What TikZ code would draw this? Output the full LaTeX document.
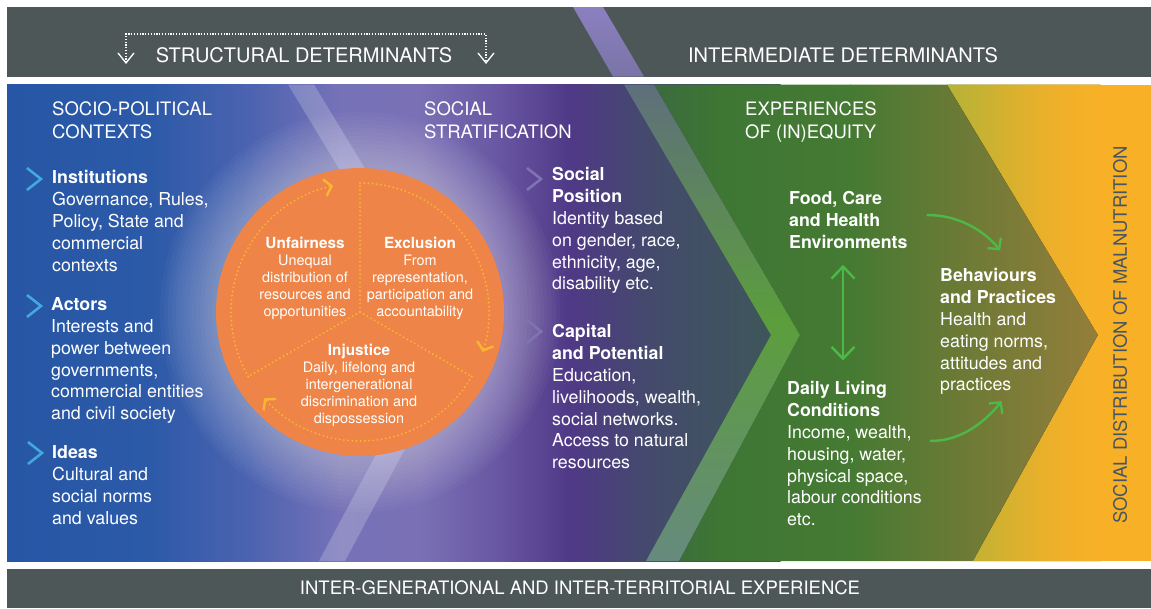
\documentclass[tikz,border=0pt]{standalone}
\usepackage{fontspec}
\setmainfont{TeX Gyre Heros}
\usepackage{xcolor}
\usepackage{tikz}
\usetikzlibrary{arrows.meta, calc, positioning}

\definecolor{barGrey}{HTML}{4E5758}
\definecolor{bandTop}{HTML}{8B80C0}
\definecolor{bandBot}{HTML}{7A74A6}
\definecolor{skyBlue}{HTML}{43A8DE}
\definecolor{lilac}{HTML}{8073B5}
\definecolor{ringOrange}{HTML}{EE8447}
\definecolor{dotYellow}{HTML}{F8B634}
\definecolor{leafGreen}{HTML}{4DB848}
\definecolor{slateText}{HTML}{475563}
\definecolor{edgeTop}{HTML}{5E6F7C}
\definecolor{edgeMid}{HTML}{5C9E3C}
\definecolor{edgeBot}{HTML}{668A7E}
% socio-political / stratification ramp
\definecolor{pA}{HTML}{2656A5}
\definecolor{pB}{HTML}{2C5AA8}
\definecolor{pC}{HTML}{4C63B0}
\definecolor{pD}{HTML}{7672B8}
\definecolor{pE}{HTML}{7A70B5}
\definecolor{pF}{HTML}{6856A2}
\definecolor{pG}{HTML}{4F3986}
\definecolor{pH}{HTML}{444A6C}
\definecolor{pI}{HTML}{3D5858}
% experiences ramp
\definecolor{gA}{HTML}{3B6840}
\definecolor{gB}{HTML}{3E7634}
\definecolor{gC}{HTML}{457A33}
\definecolor{gD}{HTML}{687A35}
\definecolor{gE}{HTML}{957E3B}
% outcome ramp
\definecolor{yA}{HTML}{B0B338}
\definecolor{yB}{HTML}{D2B12F}
\definecolor{yC}{HTML}{EDB02A}
\definecolor{yD}{HTML}{F8B126}

\newcommand{\ringhead}[1]{{\fontsize{15.3}{17.2}\selectfont\bfseries #1}}

\tikzset{
  bartext/.style={text=white, font=\fontsize{20}{24}\selectfont, inner sep=0pt},
  colhead/.style={text=white, font=\fontsize{18.5}{23}\selectfont, align=left, anchor=north west, inner sep=0pt},
  body/.style={text=white, font=\fontsize{17.8}{21.8}\selectfont, align=left, anchor=north west, inner sep=0pt},
  ringtext/.style={text=white, font=\fontsize{14.4}{17.2}\selectfont, align=center, anchor=north, inner sep=0pt},
  chev/.style={draw=#1, line width=2.6pt, line join=miter},
  ringdots/.style={draw=dotYellow, line width=2.1pt, line cap=round, dash pattern=on 0pt off 4.2pt,
    >={Straight Barb[length=7pt,width=17pt,line width=2.4pt]}},
  bracket/.style={draw=white, line width=1.2pt, dash pattern=on 1.2pt off 1.6pt,
    >={Straight Barb[length=10pt,width=16pt,line width=1.3pt]}},
  leaf/.style={draw=leafGreen, line width=2.4pt, >={Straight Barb[length=8pt,width=17pt]}},
}

\begin{document}
\begin{tikzpicture}[x=1pt, y=-1pt]
  \useasboundingbox (0,0) rectangle (1151,608);

  \fill[barGrey] (7,7) rectangle (1151,76.5);
  \shade[top color=bandTop, bottom color=bandBot] (573,7) -- (603,7) -- (644,76.5) -- (613,76.5) -- cycle;
  \fill[barGrey] (7,569) rectangle (1151,608);

  \fill[left color=pA, right color=pB] (7,84.5) rectangle (150.5,561);
  \fill[left color=pB, right color=pC] (150,84.5) rectangle (250.5,561);
  \fill[left color=pC, right color=pD] (250,84.5) rectangle (340.5,561);
  \fill[left color=pD, right color=pE] (340,84.5) rectangle (420.5,561);
  \fill[left color=pE, right color=pF] (420,84.5) rectangle (500.5,561);
  \fill[left color=pF, right color=pG] (500,84.5) rectangle (570.5,561);
  \fill[left color=pG, right color=pH] (570,84.5) rectangle (650.5,561);
  \fill[left color=pH, right color=pI] (650,84.5) rectangle (780.5,561);
  \fill[pI] (780,84.5) rectangle (815,561);

  \begin{scope}
    \clip (654,84.5) -- (1151,84.5) -- (1151,561) -- (679,561) -- (800,335) -- cycle;
    \fill[left color=gA, right color=gB] (640,84.5) rectangle (720.5,561);
    \fill[left color=gB, right color=gC] (720,84.5) rectangle (850.5,561);
    \fill[left color=gC, right color=gD] (850,84.5) rectangle (950.5,561);
    \fill[left color=gD, right color=gE] (950,84.5) rectangle (1100.5,561);
  \end{scope}

  \begin{scope}
    \clip (947,84.5) -- (1151,84.5) -- (1151,561) -- (973,561) -- (1098,335) -- cycle;
    \fill[left color=yA, right color=yB] (940,84.5) rectangle (1000.5,561);
    \fill[left color=yB, right color=yC] (1000,84.5) rectangle (1050.5,561);
    \fill[left color=yC, right color=yD] (1050,84.5) rectangle (1100.5,561);
    \fill[yD] (1100,84.5) rectangle (1151,561);
  \end{scope}

  \shade[top color=edgeTop, bottom color=edgeBot, middle color=edgeMid]
    (624,84.5) -- (654,84.5) -- (800,335) -- (679,561) -- (646,561) -- (771,335) -- cycle;
  \fill[white, fill opacity=0.2]
    (288,84.5) -- (314,84.5) -- (466,335) -- (345,561) -- (319,561) -- (440,335) -- cycle;

  \coordinate (hub) at (360,312);
  \foreach \k in {1,...,14}
    \fill[white, fill opacity=0.028] (hub) circle ({144+4*\k});
  \node[circle, fill=ringOrange, minimum size=288pt, inner sep=0pt] (wheel) at (hub) {};

  \draw[ringdots] (wheel.center) -- ++(270:129);
  \draw[ringdots] (wheel.center) -- ++(30:129);
  \draw[ringdots] (wheel.center) -- ++(150:129);
  \draw[ringdots, ->] ($(wheel.center)+(150:129)$) arc[start angle=150, end angle=258, radius=129];
  \draw[ringdots, ->] ($(wheel.center)+(270:129)$) arc[start angle=270, end angle=378, radius=129];
  \draw[ringdots, ->] ($(wheel.center)+(30:129)$) arc[start angle=30, end angle=138, radius=129];

  \node[ringtext] (unfair) at (305,236.5) {\ringhead{Unfairness}\\Unequal\\distribution of\\resources and\\opportunities};
  \node[ringtext] (exclude) at (420,236.5) {\ringhead{Exclusion}\\From\\representation,\\participation and\\accountability};
  \node[ringtext] (injust) at (359,343.5) {\ringhead{Injustice}\\Daily, lifelong and\\intergenerational\\discrimination and\\dispossession};

  \node[bartext] (structural) at (304,55) {STRUCTURAL DETERMINANTS};
  \node[bartext] (intermediate) at (843,55) {INTERMEDIATE DETERMINANTS};
  \node[bartext, font=\fontsize{18.5}{22}\selectfont] (intergen) at (580,588) {INTER-GENERATIONAL AND INTER-TERRITORIAL EXPERIENCE};

  \coordinate (brL) at (126,64);
  \coordinate (brR) at (486,64);
  \draw[bracket, <->] (brL) -- ++(0,-30) -- ($(brR)+(0,-30)$) -- (brR);

  \node[colhead] (sociopol) at (52,101.3) {SOCIO-POLITICAL\\CONTEXTS};
  \node[colhead] (strat) at (424,101.3) {SOCIAL\\STRATIFICATION};
  \node[colhead] (equity) at (745,101.3) {EXPERIENCES\\OF (IN)EQUITY};

  \node[body] (inst) at (52,170.5) {\textbf{Institutions}\\Governance, Rules,\\Policy, State and\\commercial\\contexts};
  \node[body] (actors) at (51,297.5) {\textbf{Actors}\\Interests and\\power between\\governments,\\commercial entities\\and civil society};
  \node[body] (ideas) at (52,445.5) {\textbf{Ideas}\\Cultural and\\social norms\\and values};
  \draw[chev=skyBlue] (27,168) -- (41,179) -- (27,190);
  \draw[chev=skyBlue] (27,295) -- (41,306) -- (27,317);
  \draw[chev=skyBlue] (28,442) -- (42,453) -- (28,464);

  \node[body] (position) at (552,167.5) {\textbf{Social}\\\textbf{Position}\\Identity based\\on gender, race,\\ethnicity, age,\\disability etc.};
  \node[body] (capital) at (552,324.5) {\textbf{Capital}\\\textbf{and Potential}\\Education,\\livelihoods, wealth,\\social networks.\\Access to natural\\resources};
  \draw[chev=lilac] (527,168) -- (541,179) -- (527,190);
  \draw[chev=lilac] (527,320) -- (541,331.5) -- (527,343);

  \node[body] (food) at (789,191.5) {\textbf{Food, Care}\\\textbf{and Health}\\\textbf{Environments}};
  \node[body] (daily) at (787,381.5) {\textbf{Daily Living}\\\textbf{Conditions}\\Income, wealth,\\housing, water,\\physical space,\\labour conditions\\etc.};
  \node[body] (behav) at (940,268.5) {\textbf{Behaviours}\\\textbf{and Practices}\\Health and\\eating norms,\\attitudes and\\practices};

  \coordinate (dblx) at (843,0);
  \draw[leaf, {Straight Barb[length=12pt,width=23pt]}-{Straight Barb[length=12pt,width=23pt]}]
    ([yshift=-16pt]food.south -| dblx) -- ([yshift=21pt]daily.north -| dblx);

  \coordinate (fcOut) at ($(food.east)+(19,-5)$);
  \coordinate (bpIn) at ($(behav.north)+(2,-18)$);
  \coordinate (dlOut) at ($(daily.east)+(8,-13)$);
  \coordinate (bpIn2) at ($(behav.south)+(3.5,6)$);
  \draw[leaf, ->] (fcOut) .. controls ($(fcOut)+(32,-1)$) and ($(bpIn)+(-14,-18)$) .. (bpIn);
  \draw[leaf, ->] (dlOut) .. controls ($(dlOut)+(32,1)$) and ($(bpIn2)+(-14,18)$) .. (bpIn2);

  \node[rotate=90, text=slateText, font=\fontsize{18.5}{22}\selectfont, inner sep=0pt] (malnut) at (1120,335) {SOCIAL DISTRIBUTION OF MALNUTRITION};
\end{tikzpicture}
\end{document}
